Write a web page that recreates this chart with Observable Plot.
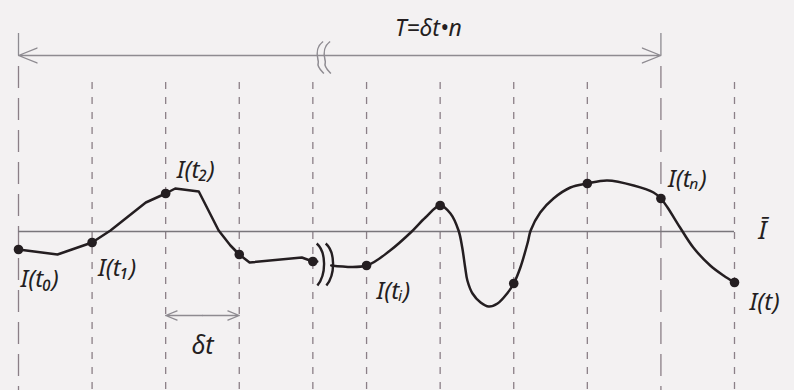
<!DOCTYPE html>
<html>
<head>
<meta charset="utf-8">
<script src="https://cdn.jsdelivr.net/npm/d3@7"></script>
<script src="https://cdn.jsdelivr.net/npm/@observablehq/plot@0.6"></script>
<style>
  html, body { margin: 0; padding: 0; background: #f3f1f2; }
  #chart svg { display: block; }
</style>
</head>
<body>
<div id="chart"></div>
<script>
// Sampling instants, in units of δt (the time axis is broken between t4 and t_i)
const gridT = [0, 1, 2, 3, 4, 4.73, 5.73, 6.73, 7.73, 8.73, 9.73];
// Sampled intensity I(t_k) at each instant
const sampleI = [14.1, 14.8, 19.7, 13.6, 12.9, 12.5, 18.5, 10.7, 20.7, 19.2, 10.8];
// Labels of the highlighted samples (index into the grid)
const sampleLabelIndex = [0, 1, 2, 5, 9, 10];
const sampleLabelText = ["I(t₀)", "I(t₁)", "I(t₂)", "I(tᵢ)", "I(tₙ)", "I(t)"];

// Continuous signal I(t), before the axis break
const curve1T = [0, 0.53, 1, 1.25, 1.73, 2, 2.13, 2.45, 2.72, 2.88, 3, 3.14, 3.85, 4, 4.06];
const curve1I = [14.1, 13.6, 14.8, 16.0, 18.8, 19.7, 20.2, 19.9, 16.0, 14.5, 13.6, 12.8, 13.3, 12.9, 12.9];
// ... and after it
const curve2T = [4.25, 4.73, 5.05, 5.33, 5.53, 5.73, 5.87, 5.98, 6.03, 6.07, 6.10, 6.17, 6.28, 6.39, 6.51, 6.64, 6.73,
                 6.82, 6.92, 6.96, 7.09, 7.27, 7.50, 7.73, 8.00, 8.36, 8.63, 8.73, 8.82, 8.99, 9.17, 9.40, 9.58, 9.73];
const curve2I = [12.5, 12.5, 14.0, 15.8, 17.3, 18.5, 17.7, 16.0, 14.3, 12.3, 11.0, 9.7, 8.8, 8.4, 8.7, 9.7, 10.7,
                 12.3, 14.8, 16.0, 17.8, 19.2, 20.3, 20.7, 21.0, 20.5, 19.8, 19.2, 18.3, 16.3, 14.3, 12.5, 11.5, 10.8];

// Mean intensity Ī
const meanI = 15.9;
// Measurement period T = δt·n ends at t_n
const periodN = 9;
// Axis break position
const breakT = 4.15;
// Vertical levels of the annotations (intensity units)
const periodArrowI = 33.5;
const periodTickTopI = 35.7;
const gridTopI = 30.8;
const longGridTopI = 32.4;
const stepArrowI = 7.5;
const periodLabelT = 5.57;

const ink = "#241e21";
const gridColor = "#8b7f87";
const arrowColor = "#8e8b91";
const fontFamily = "'Noto Sans', 'DejaVu Sans', sans-serif";

const samples = gridT.map((t, k) => ({t, I: sampleI[k], k}));
const curve1 = curve1T.map((t, k) => ({t, I: curve1I[k]}));
const curve2 = curve2T.map((t, k) => ({t, I: curve2I[k]}));
const periodEnd = gridT[periodN];
const isLong = (d) => d.k === 0 || d.k === periodN;

// Break glyphs, drawn as custom dot symbols (size = π r²)
const curveBreak = {
  draw(ctx, size) {
    const r = Math.sqrt(size / Math.PI);
    ctx.moveTo(-0.15 * r, -r);
    ctx.bezierCurveTo(0.3 * r, -0.6 * r, 0.32 * r, 0.45 * r, -0.12 * r, r);
  }
};
const axisBreak = {
  draw(ctx, size) {
    const r = Math.sqrt(size / Math.PI);
    ctx.moveTo(0.2 * r, -r);
    ctx.bezierCurveTo(-0.45 * r, -0.5 * r, -0.05 * r, 0.2 * r, -0.1 * r, 0.3 * r);
    ctx.bezierCurveTo(-0.2 * r, 0.6 * r, 0.1 * r, 0.85 * r, 0.25 * r, r);
  }
};

// Labels next to the sample points: offsets in pixels
const labelOffsets = [[2, 30], [6, 26], [11, -23], [10, 26], [7, -19], [15, 20]];
const labelMarks = sampleLabelIndex.map((k, j) =>
  Plot.text([samples[k]], {
    x: "t", y: "I", text: () => sampleLabelText[j],
    dx: labelOffsets[j][0], dy: labelOffsets[j][1],
    textAnchor: "start", fontSize: 24, fontStyle: "italic", fontFamily, fill: ink
  })
);

const chart = Plot.plot({
  width: 794,
  height: 390,
  margin: 0,
  x: {domain: [0, gridT[gridT.length - 1]], range: [18, 734], axis: null},
  y: {domain: [0, 39], range: [390, 0], axis: null},
  style: {background: "#f3f1f2", overflow: "visible"},
  marks: [
    // sampling grid
    Plot.ruleX(samples.filter((d) => !isLong(d)), {
      x: "t", y1: gridTopI, y2: 0, stroke: gridColor, strokeWidth: 1.3, strokeDasharray: "7,8"
    }),
    Plot.ruleX(samples.filter(isLong), {
      x: "t", y1: longGridTopI, y2: 0, stroke: gridColor, strokeWidth: 1.3, strokeDasharray: "22,10"
    }),
    Plot.ruleX(samples.filter(isLong), {
      x: "t", y1: periodTickTopI, y2: periodArrowI, stroke: arrowColor, strokeWidth: 1.3
    }),
    // period arrow T = δt·n
    Plot.arrow([{a: breakT, b: 0}, {a: breakT, b: periodEnd}], {
      x1: "a", x2: "b", y1: () => periodArrowI, y2: () => periodArrowI,
      stroke: arrowColor, strokeWidth: 1.3, headLength: 23, headAngle: 44
    }),
    Plot.dot([{t: breakT}], {
      x: "t", y: () => periodArrowI, dy: 2, dx: -4, r: 16, symbol: axisBreak,
      fill: "none", stroke: arrowColor, strokeWidth: 1.5
    }),
    Plot.dot([{t: breakT}], {
      x: "t", y: () => periodArrowI, dy: 2, dx: 3, r: 16, symbol: axisBreak,
      fill: "none", stroke: arrowColor, strokeWidth: 1.5
    }),
    Plot.text([{t: periodLabelT}], {
      x: "t", y: () => periodArrowI, dy: -27, text: () => "T=δt•n",
      fontSize: 23, fontStyle: "italic", fontFamily, fill: ink
    }),
    // mean intensity
    Plot.ruleY([meanI], {x1: 0, x2: gridT[gridT.length - 1], stroke: "#79767b", strokeWidth: 1.6}),
    Plot.text([meanI], {
      x: gridT[gridT.length - 1], y: (d) => d, dx: 28, dy: -1, text: () => "Ī",
      fontSize: 26, fontStyle: "italic", fontFamily, fill: ink
    }),
    // the signal
    Plot.line(curve1, {x: "t", y: "I", stroke: ink, strokeWidth: 2.5, curve: "linear"}),
    Plot.line(curve2, {x: "t", y: "I", stroke: ink, strokeWidth: 2.5, curve: "catmull-rom"}),
    Plot.dot([{t: breakT, I: 12.6}], {
      x: "t", y: "I", dx: -4, r: 21, symbol: curveBreak, fill: "none", stroke: ink, strokeWidth: 2.4
    }),
    Plot.dot([{t: breakT, I: 12.6}], {
      x: "t", y: "I", dx: 5, r: 21, symbol: curveBreak, fill: "none", stroke: ink, strokeWidth: 2.4
    }),
    Plot.dot(samples, {x: "t", y: "I", r: 4.8, fill: ink}),
    // sampling step δt
    Plot.arrow([{a: 2.5, b: 2}, {a: 2.5, b: 3}], {
      x1: "a", x2: "b", y1: () => stepArrowI, y2: () => stepArrowI,
      stroke: arrowColor, strokeWidth: 1.3, headLength: 21, headAngle: 44
    }),
    Plot.text([{t: 2.5}], {
      x: "t", y: () => stepArrowI, dy: 30, text: () => "δt",
      fontSize: 25, fontStyle: "italic", fontFamily, fill: ink
    }),
    ...labelMarks
  ]
});

document.getElementById("chart").append(chart);
</script>
</body>
</html>
